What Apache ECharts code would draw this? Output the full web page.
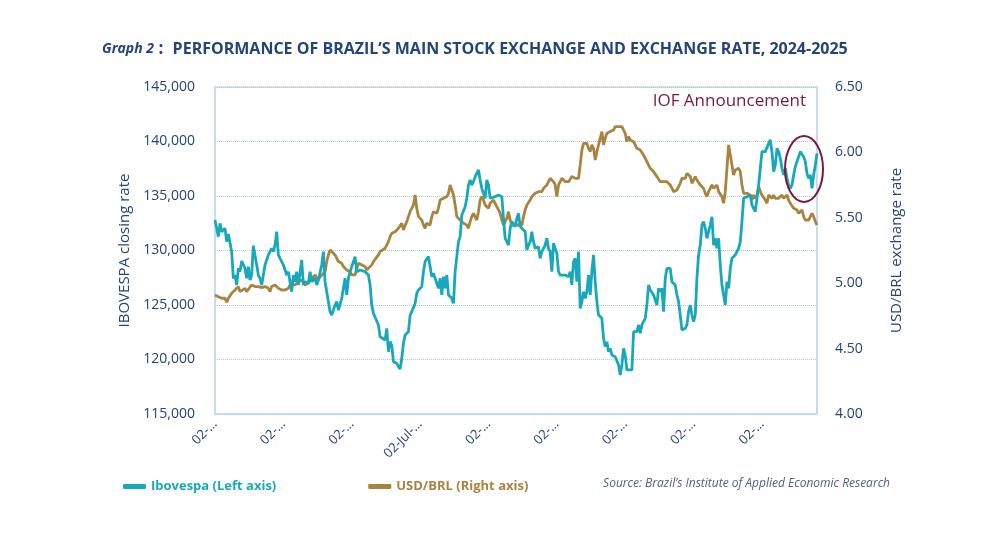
<!DOCTYPE html>
<html>
<head>
<meta charset="utf-8">
<title>Graph 2</title>
<script src="https://cdn.jsdelivr.net/npm/echarts@6/dist/echarts.min.js"></script>
<style>
  html, body { margin: 0; padding: 0; background: #fff; }
  #chart { width: 1000px; height: 533px; }
</style>
</head>
<body>
<div id="chart"></div>
<script>
// trading session index (0 = 02-Jan-24) and closing values
var ibovespa = [
  [0,132800],[2,131270],[3,132490],[4,131730],[6,132030],[7,130810],[8,131510],[10,129890],[11,127450],[12,127750],
  [13,126840],[14,128360],[15,128060],[16,129040],[18,128360],[19,127450],[20,128520],[21,127290],[22,127750],[23,130440],
  [25,128670],[26,127750],[27,127450],[28,126840],[30,128670],[31,129130],[32,129590],[34,130200],[35,129890],[36,130500],
  [37,131730],[38,129590],[39,129280],[41,128670],[42,128820],[43,127750],[44,128060],[46,126220],[47,127750],[48,127140],
  [49,128060],[50,126840],[52,129130],[53,126840],[54,127140],[56,126990],[57,128060],[58,127140],[60,127450],[61,126840],
  [62,127290],[64,128670],[65,129890],[66,127140],[67,126220],[68,125310],[69,124390],[70,124080],[72,125000],[73,125310],
  [74,124540],[76,125610],[77,126530],[78,127450],[79,125920],[80,127450],[81,128060],[83,128980],[84,129440],[85,128060],
  [87,128210],[88,128210],[90,128060],[92,127750],[93,126840],[94,125000],[95,124240],[96,124390],[98,123170],[99,122090],
  [100,121940],[102,121790],[103,122860],[104,120720],[105,121640],[106,121330],[107,119800],[109,119650],[110,119340],[111,119130],
  [112,120110],[113,121480],[114,122250],[116,122550],[117,124080],[118,124390],[120,125150],[121,126070],[122,126380],[124,126680],
  [125,128060],[126,128980],[128,129440],[129,129440],[130,127600],[131,127910],[132,127750],[134,126530],[135,127450],[136,125920],
  [137,127600],[138,126530],[139,127750],[140,125920],[142,125610],[143,125150],[144,128060],[146,130810],[147,131270],[148,133260],
  [150,134020],[151,134790],[152,136010],[153,136470],[154,136010],[155,136310],[156,136770],[157,136930],[158,137390],[159,136470],
  [160,135700],[162,134790],[163,136470],[164,136010],[165,134790],[166,134790],[168,134940],[170,135090],[172,134940],[173,132950],
  [174,131120],[175,130810],[176,130500],[177,132030],[178,132650],[180,132190],[181,132950],[182,133410],[183,132190],[184,132030],
  [186,131730],[187,130050],[188,130500],[189,130810],[190,131730],[191,130810],[192,130200],[194,130350],[195,129280],[196,129890],
  [198,130500],[199,131120],[200,130200],[201,129890],[202,128060],[203,130660],[204,130200],[205,129740],[206,128060],[207,127750],
  [208,127750],[210,127750],[212,127600],[213,128060],[214,126840],[215,128980],[216,129280],[217,127140],[218,129890],[219,124690],
  [220,125310],[221,126220],[222,125610],[223,126220],[224,127750],[225,125920],[226,128060],[227,129590],[228,127140],[229,125310],
  [230,124080],[232,123780],[233,121940],[234,121180],[235,121640],[236,120720],[237,121030],[238,120410],[240,120260],[241,120110],
  [242,119500],[243,118580],[244,119500],[245,121030],[246,120410],[247,119040],[248,118880],[250,119040],[251,122550],[252,122700],
  [253,122550],[254,123170],[255,122400],[256,123170],[257,123470],[258,123780],[259,125000],[260,126840],[261,126380],[262,126380],
  [263,125920],[264,126070],[265,125000],[266,126530],[267,126220],[268,126530],[269,124390],[270,127450],[271,128360],[272,128520],
  [273,128360],[274,127140],[276,126840],[277,125920],[278,125310],[279,124080],[280,122710],[282,122860],[283,123170],[284,124390],
  [285,125000],[286,124080],[287,123470],[288,124080],[289,127450],[290,129590],[291,130500],[292,132340],[293,132650],[294,132030],
  [295,131120],[296,131730],[297,132340],[298,133100],[299,130500],[300,131120],[301,130200],[302,131120],[303,128670],[304,126840],
  [305,125920],[306,125000],[307,127140],[308,126530],[309,128360],[310,129280],[311,129280],[312,129590],[313,129890],[314,130200],
  [315,130810],[316,132650],[317,134790],[318,134940],[319,134940],[320,134790],[321,135090],[322,134180],[323,133870],[324,133560],
  [325,133410],[326,136010],[327,136010],[328,139070],[329,139220],[330,139070],[331,139070],[332,139830],[333,140140],[334,139070],
  [335,137230],[336,137840],[337,139370],[338,139070],[339,138460],[340,137540],[341,136930],[342,137540],[343,136620],[344,136010],
  [345,135700],[346,136010],[347,136930],[348,137690],[349,137840],[350,138610],[351,139070],[352,139220],[353,138610],[354,138150],
  [355,137080],[356,136620],[357,136930],[358,135700],[359,136930],[360,137840],[361,138910]
];

var usdBrl = [
  [0,4.910],[2,4.897],[3,4.910],[4,4.885],[6,4.885],[7,4.854],[8,4.885],[10,4.923],[11,4.910],[12,4.948],
  [14,4.974],[15,4.936],[16,4.923],[18,4.961],[19,4.936],[20,4.948],[22,4.987],[23,4.999],[24,4.974],[26,4.974],
  [27,4.974],[28,4.966],[30,4.974],[32,4.961],[33,4.936],[34,4.974],[36,4.987],[38,4.961],[39,4.974],[40,4.948],
  [42,4.948],[44,4.961],[45,4.987],[46,4.974],[48,4.987],[50,5.012],[51,4.999],[52,5.025],[54,4.987],[56,4.999],
  [57,5.012],[58,5.038],[60,5.063],[62,5.025],[63,5.050],[64,5.038],[66,5.088],[67,5.165],[68,5.216],[69,5.254],
  [70,5.241],[72,5.216],[73,5.203],[74,5.165],[76,5.152],[77,5.127],[78,5.140],[79,5.101],[80,5.088],[81,5.088],
  [82,5.063],[84,5.063],[85,5.114],[86,5.152],[87,5.140],[88,5.140],[90,5.127],[91,5.101],[92,5.114],[94,5.140],
  [95,5.165],[96,5.178],[98,5.216],[99,5.241],[100,5.241],[102,5.267],[103,5.292],[104,5.318],[105,5.356],[106,5.381],
  [108,5.394],[109,5.394],[110,5.420],[112,5.458],[113,5.407],[114,5.420],[115,5.471],[116,5.483],[117,5.547],[118,5.573],
  [119,5.598],[120,5.674],[121,5.573],[122,5.509],[123,5.496],[124,5.483],[125,5.445],[126,5.420],[127,5.458],[128,5.445],
  [129,5.445],[130,5.509],[131,5.547],[132,5.560],[133,5.534],[134,5.573],[135,5.636],[136,5.636],[137,5.649],[138,5.636],
  [139,5.662],[140,5.687],[141,5.751],[142,5.764],[143,5.674],[144,5.598],[145,5.509],[146,5.496],[147,5.483],[148,5.471],
  [149,5.458],[150,5.445],[151,5.445],[152,5.420],[153,5.471],[154,5.509],[155,5.534],[156,5.509],[157,5.483],[158,5.547],
  [159,5.636],[160,5.662],[161,5.636],[162,5.598],[163,5.611],[164,5.573],[165,5.611],[166,5.624],[167,5.636],[168,5.636],
  [169,5.585],[170,5.560],[171,5.534],[172,5.483],[173,5.445],[174,5.471],[175,5.496],[176,5.547],[177,5.483],[178,5.445],
  [180,5.445],[181,5.432],[182,5.445],[183,5.458],[184,5.445],[185,5.509],[186,5.560],[187,5.598],[188,5.611],[189,5.636],
  [190,5.662],[191,5.674],[192,5.687],[193,5.674],[194,5.700],[195,5.713],[196,5.700],[197,5.725],[198,5.738],[199,5.751],
  [200,5.776],[201,5.802],[202,5.815],[203,5.776],[204,5.751],[205,5.662],[206,5.751],[207,5.776],[208,5.802],[209,5.789],
  [210,5.776],[211,5.764],[212,5.776],[213,5.789],[214,5.815],[215,5.815],[216,5.802],[217,5.789],[218,5.802],[219,5.904],
  [220,6.018],[221,6.069],[222,6.057],[223,6.069],[224,6.031],[225,6.006],[226,6.057],[227,6.031],[228,5.942],[229,6.006],
  [230,6.057],[231,6.069],[232,6.159],[233,6.057],[234,6.108],[235,6.146],[236,6.133],[237,6.159],[238,6.159],[239,6.171],
  [240,6.197],[241,6.184],[242,6.197],[243,6.197],[244,6.197],[245,6.210],[246,6.146],[247,6.082],[248,6.120],[249,6.095],
  [250,6.108],[251,6.082],[252,6.069],[253,6.031],[254,6.044],[255,6.018],[256,6.031],[257,5.980],[258,5.955],[259,5.929],
  [260,5.917],[261,5.878],[262,5.891],[263,5.853],[264,5.866],[265,5.815],[266,5.802],[267,5.776],[268,5.776],[269,5.776],
  [270,5.764],[271,5.776],[272,5.764],[273,5.751],[274,5.738],[275,5.700],[276,5.700],[277,5.713],[278,5.738],[279,5.764],
  [280,5.802],[281,5.815],[282,5.802],[283,5.840],[284,5.853],[285,5.815],[286,5.764],[287,5.789],[288,5.815],[289,5.789],
  [290,5.776],[291,5.751],[292,5.751],[293,5.725],[294,5.687],[295,5.662],[296,5.700],[297,5.700],[298,5.751],[299,5.725],
  [300,5.738],[301,5.751],[302,5.700],[303,5.700],[304,5.662],[305,5.611],[306,5.700],[307,5.878],[308,6.057],[309,5.980],
  [310,5.904],[311,5.827],[312,5.866],[313,5.866],[314,5.878],[315,5.853],[316,5.751],[317,5.687],[318,5.674],[319,5.687],
  [320,5.674],[321,5.674],[322,5.636],[323,5.674],[324,5.649],[325,5.674],[326,5.738],[327,5.700],[328,5.674],[329,5.662],
  [330,5.636],[331,5.611],[332,5.674],[333,5.687],[334,5.649],[335,5.674],[336,5.649],[337,5.662],[338,5.649],[339,5.662],
  [340,5.674],[341,5.649],[342,5.662],[343,5.674],[344,5.636],[345,5.611],[346,5.598],[347,5.573],[348,5.585],[349,5.560],
  [350,5.534],[351,5.547],[352,5.560],[353,5.509],[354,5.483],[355,5.496],[356,5.483],[357,5.509],[358,5.534],[359,5.509],
  [360,5.471],[361,5.445]
];

// one labelled tick every 41 sessions
var tickDates = ['02-Jan-24','02-Mar-24','02-May-24','02-Jul-24','02-Sep-24','02-Nov-24','02-Jan-25','02-Mar-25','02-May-25'];
var tickStep = 41;
var lastSession = 361;

var teal = '#17a9bb';
var gold = '#a8843f';
var navy = '#23447a';
var wine = '#7b1a3a';
var frame = '#c3daee';
var font = 'Open Sans';

var myChart = echarts.init(document.getElementById('chart'));

var option = {
	textStyle: { fontFamily: font },
	title: {
		left: 97,
		top: 35,
		text: '{a|Graph 2}{c| :}  {b|PERFORMANCE OF BRAZIL’S MAIN STOCK EXCHANGE AND EXCHANGE RATE, 2024-2025}',
		textStyle: {
			rich: {
				a: { fontFamily: font, fontStyle: 'italic', fontWeight: 'bold', fontSize: 14, color: navy },
				c: { fontFamily: font, fontWeight: 'bold', fontSize: 17, color: navy },
				b: { fontFamily: font, fontWeight: 'bold', fontSize: 16, color: navy }
			}
		}
	},
	grid: {
		left: 215,
		right: 183,
		top: 87,
		bottom: 119,
		show: true,
		borderColor: frame,
		borderWidth: 1.5
	},
	legend: {
		left: 118,
		top: 475,
		icon: 'roundRect',
		itemWidth: 23,
		itemHeight: 5,
		itemGap: 92,
		textStyle: { fontFamily: font, fontSize: 13, fontWeight: 'bold' },
		data: [
			{ name: 'Ibovespa (Left axis)', textStyle: { color: teal } },
			{ name: 'USD/BRL (Right axis)', textStyle: { color: gold } }
		]
	},
	xAxis: {
		type: 'value',
		min: 0,
		max: lastSession,
		interval: tickStep,
		axisLine: { show: true, lineStyle: { color: frame, width: 1.5 } },
		axisTick: { show: false },
		splitLine: { show: false },
		axisLabel: {
			rotate: 45,
			margin: 8,
			fontSize: 13,
			color: navy,
			formatter: function (v) {
				var i = v / tickStep;
				if (i !== Math.round(i) || !tickDates[i]) return '';
				var d = tickDates[i];
				// labels are clipped in the original, only July keeps its month
				return d.indexOf('Jul') > 0 ? d.slice(0, 7) + '…' : d.slice(0, 3) + '…';
			}
		}
	},
	yAxis: [{
		type: 'value',
		min: 115000,
		max: 145000,
		interval: 5000,
		name: 'IBOVESPA closing rate',
		nameLocation: 'middle',
		nameRotate: 90,
		nameGap: 82,
		nameTextStyle: { fontSize: 15, color: navy, fontFamily: font },
		axisLine: { show: true, lineStyle: { color: frame, width: 1.5 } },
		axisTick: { show: false },
		axisLabel: {
			fontSize: 14,
			color: navy,
			margin: 20,
			formatter: function (v) { return v.toLocaleString('en-US'); }
		},
		splitLine: { show: true, lineStyle: { color: '#a6c9e6', type: 'dotted', width: 1 } }
	}, {
		type: 'value',
		min: 4,
		max: 6.5,
		interval: 0.5,
		name: 'USD/BRL exchange rate',
		nameLocation: 'middle',
		nameRotate: 90,
		nameGap: 72,
		nameTextStyle: { fontSize: 15, color: navy, fontFamily: font },
		axisLine: { show: true, lineStyle: { color: frame, width: 1.5 } },
		axisTick: { show: false },
		axisLabel: {
			fontSize: 14,
			color: navy,
			margin: 18,
			formatter: function (v) { return v.toFixed(2); }
		},
		splitLine: { show: false }
	}],
	series: [{
		name: 'USD/BRL (Right axis)',
		type: 'line',
		yAxisIndex: 1,
		data: usdBrl,
		showSymbol: false,
		symbol: 'none',
		color: gold,
		lineStyle: { color: gold, width: 2.8 },
		z: 2
	}, {
		name: 'Ibovespa (Left axis)',
		type: 'line',
		yAxisIndex: 0,
		data: ibovespa,
		showSymbol: false,
		symbol: 'none',
		color: teal,
		lineStyle: { color: teal, width: 2.8 },
		z: 3
	}],
	graphic: [{
		type: 'text',
		right: 1000 - 806,
		top: 93,
		style: { text: 'IOF Announcement', fill: wine, fontSize: 17, fontFamily: font }
	}, {
		type: 'ellipse',
		shape: { cx: 804, cy: 169, rx: 19, ry: 33 },
		style: { fill: 'none', stroke: wine, lineWidth: 2 },
		z: 100
	}, {
		type: 'text',
		right: 1000 - 890,
		top: 478,
		style: {
			text: 'Source: Brazil’s Institute of Applied Economic Research',
			fill: '#4d6487',
			fontSize: 12,
			fontStyle: 'italic',
			fontFamily: font
		}
	}]
};
myChart.setOption(option);
window.onresize = function () {
	myChart.resize();
}
</script>
</body>
</html>
